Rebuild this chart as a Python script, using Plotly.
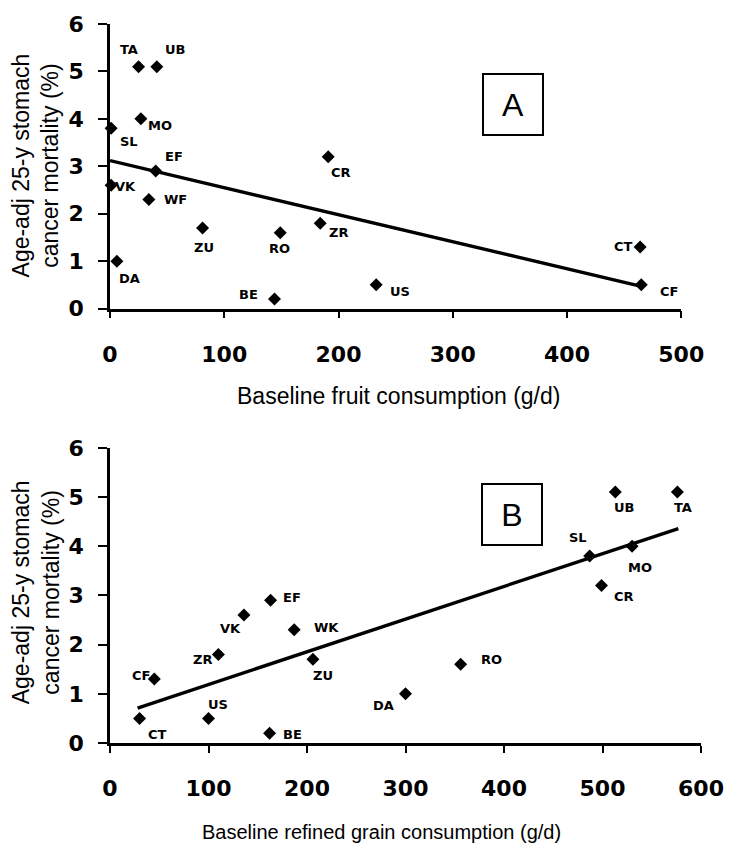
import plotly.graph_objects as go

# ---------------- data ----------------
codes_a = ["TA", "UB", "MO", "SL", "EF", "VK", "WF", "CR", "ZU", "RO", "ZR", "DA", "BE", "US", "CT", "CF"]
fruit_g = [25, 41, 27, 1, 40, 1, 34, 191, 81, 149, 184, 6, 144, 233, 464, 465]
mort_a = [5.1, 5.1, 4.0, 3.8, 2.9, 2.6, 2.3, 3.2, 1.7, 1.6, 1.8, 1.0, 0.2, 0.5, 1.3, 0.5]
fit_a_x = [0, 465]
fit_a_y = [3.12, 0.47]

codes_b = ["CT", "CF", "US", "ZR", "VK", "EF", "WK", "ZU", "BE", "DA", "RO", "SL", "MO", "CR", "UB", "TA"]
grain_g = [30, 45, 100, 110, 136, 163, 187, 206, 162, 300, 356, 487, 530, 499, 513, 576]
mort_b = [0.5, 1.3, 0.5, 1.8, 2.6, 2.9, 2.3, 1.7, 0.2, 1.0, 1.6, 3.8, 4.0, 3.2, 5.1, 5.1]
fit_b_x = [28, 577]
fit_b_y = [0.71, 4.36]

xticks_a = [0, 100, 200, 300, 400, 500]
xticks_b = [0, 100, 200, 300, 400, 500, 600]
yticks = [0, 1, 2, 3, 4, 5, 6]

# ---------------- label offsets (pixels: dx right, dy up) ----------------
off_a = {"TA": (-10, 17), "UB": (18, 17), "MO": (19, -7), "SL": (18, -13), "EF": (18, 15),
         "VK": (14, -1), "WF": (27, 0), "CR": (13, -16), "ZU": (1, -20), "RO": (-1, -16),
         "ZR": (18, -9), "DA": (13, -17), "BE": (-26, 5), "US": (24, -7), "CT": (-17, 0),
         "CF": (28, -7)}
off_b = {"CT": (18, -16), "CF": (-13, 4), "US": (9, 14), "ZR": (-16, -5), "VK": (-13, -13),
         "EF": (21, 3), "WK": (32, 2), "ZU": (10, -16), "BE": (23, -1), "DA": (-22, -12),
         "RO": (31, 5), "SL": (-12, 19), "MO": (8, -21), "CR": (22, -11), "UB": (9, -15),
         "TA": (6, -15)}

ARIAL = "Liberation Sans, Arial, sans-serif"
BOLDNUM = "DejaVu Sans, sans-serif"

fig = go.Figure()

marker = dict(symbol="diamond", size=10, color="black", line=dict(width=0))

fig.add_trace(go.Scatter(x=fit_a_x, y=fit_a_y, mode="lines", line=dict(color="black", width=3.4),
                         xaxis="x", yaxis="y", hoverinfo="skip"))
fig.add_trace(go.Scatter(x=fruit_g, y=mort_a, mode="markers", marker=marker, cliponaxis=False,
                         xaxis="x", yaxis="y", text=codes_a))
fig.add_trace(go.Scatter(x=fit_b_x, y=fit_b_y, mode="lines", line=dict(color="black", width=3.4),
                         xaxis="x2", yaxis="y2", hoverinfo="skip"))
fig.add_trace(go.Scatter(x=grain_g, y=mort_b, mode="markers", marker=marker, cliponaxis=False,
                         xaxis="x2", yaxis="y2", text=codes_b))

annotations = []
lab_font = dict(family=BOLDNUM, size=13, color="black", weight="bold")
for c, xv, yv in zip(codes_a, fruit_g, mort_a):
    dx, dy = off_a[c]
    annotations.append(dict(x=xv, y=yv, xref="x", yref="y", text=c, showarrow=False,
                            xshift=dx, yshift=dy, font=lab_font))
for c, xv, yv in zip(codes_b, grain_g, mort_b):
    dx, dy = off_b[c]
    annotations.append(dict(x=xv, y=yv, xref="x2", yref="y2", text=c, showarrow=False,
                            xshift=dx, yshift=dy, font=lab_font))

# panel letters
box_font = dict(family=ARIAL, size=32, color="black")
annotations.append(dict(x=0.705, y=0.718, xref="x domain", yref="y domain", text="A",
                        showarrow=False, font=box_font, bordercolor="black", borderwidth=2,
                        borderpad=0, width=58, height=59, xanchor="center", yanchor="middle"))
annotations.append(dict(x=0.680, y=0.774, xref="x2 domain", yref="y2 domain", text="B",
                        showarrow=False, font=box_font, bordercolor="black", borderwidth=2,
                        borderpad=0, width=58, height=59, xanchor="center", yanchor="middle"))

# axis titles
ytitle = "Age-adj 25-y stomach<br>cancer mortality (%)"
annotations.append(dict(x=-0.126, y=0.8026, xref="paper", yref="paper", text=ytitle,
                        textangle=-90, showarrow=False, font=dict(family=ARIAL, size=23, color="black"),
                        xanchor="center", yanchor="middle"))
annotations.append(dict(x=-0.126, y=0.209, xref="paper", yref="paper", text=ytitle,
                        textangle=-90, showarrow=False, font=dict(family=ARIAL, size=23, color="black"),
                        xanchor="center", yanchor="middle"))
annotations.append(dict(x=0.4875, y=0.483, xref="paper", yref="paper",
                        text="Baseline fruit consumption (g/d)", showarrow=False,
                        font=dict(family=ARIAL, size=23, color="black"),
                        xanchor="center", yanchor="middle"))
annotations.append(dict(x=0.4599, y=-0.1235, xref="paper", yref="paper",
                        text="Baseline refined grain consumption (g/d)", showarrow=False,
                        font=dict(family=ARIAL, size=20, color="black"),
                        xanchor="center", yanchor="middle"))

tickfont = dict(family=BOLDNUM, size=22, color="black", weight="bold")
axis_common = dict(showline=True, linecolor="black", linewidth=2.5, ticks="outside",
                   tickcolor="black", tickwidth=2, showgrid=False, zeroline=False,
                   tickfont=tickfont, fixedrange=True)

fig.update_layout(
    width=736, height=847,
    margin=dict(l=110, r=28, t=19, b=104),
    paper_bgcolor="white", plot_bgcolor="white",
    showlegend=False,
    xaxis=dict(domain=[0, 0.9666], range=[0, 500], tickvals=xticks_a, anchor="y",
               ticklen=7, ticklabelstandoff=17, **axis_common),
    yaxis=dict(domain=[0.6042, 1], range=[0, 6], tickvals=yticks, anchor="x",
               ticklen=9, ticklabelstandoff=10, **axis_common),
    xaxis2=dict(domain=[0, 1], range=[0, 600], tickvals=xticks_b, anchor="y2",
                ticklen=7, ticklabelstandoff=17, **axis_common),
    yaxis2=dict(domain=[0, 0.4105], range=[0, 6], tickvals=yticks, anchor="x2",
                ticklen=9, ticklabelstandoff=10, **axis_common),
    annotations=annotations,
)

fig.write_html("out.html")
